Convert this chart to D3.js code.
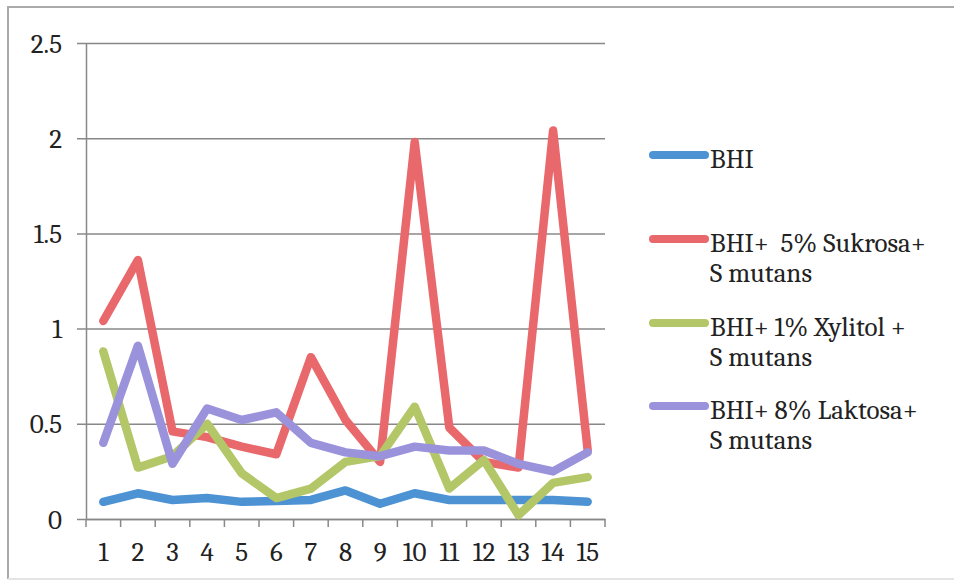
<!DOCTYPE html>
<html><head><meta charset="utf-8">
<script src="https://cdn.jsdelivr.net/npm/d3@7"></script>
<style>body{margin:0;background:#fff}svg{display:block}</style>
</head><body><svg id="c" width="954" height="582"></svg>
<script>
const categories = ["1","2","3","4","5","6","7","8","9","10","11","12","13","14","15"];
const yTicks = [0, 0.5, 1, 1.5, 2, 2.5];
const yTickLabels = ["0","0.5","1","1.5","2","2.5"];
const seriesNames = [["BHI"],["BHI+  5% Sukrosa+","S mutans"],["BHI+ 1% Xylitol +","S mutans"],["BHI+ 8% Laktosa+","S mutans"]];
const bhi      = [0.09,0.135,0.10,0.11,0.09,0.095,0.10,0.15,0.08,0.135,0.10,0.10,0.10,0.10,0.09];
const sukrosa  = [1.04,1.36,0.46,0.43,0.38,0.34,0.85,0.52,0.30,1.98,0.48,0.30,0.27,2.04,0.36];
const xylitol  = [0.88,0.27,0.33,0.50,0.24,0.11,0.16,0.30,0.33,0.59,0.16,0.31,0.02,0.19,0.22];
const laktosa  = [0.40,0.91,0.29,0.58,0.52,0.56,0.40,0.35,0.33,0.38,0.36,0.36,0.29,0.25,0.35];
const colors = ["#4d93d4","#e8686c","#b3c768","#9a92da"];
const FONT = '"Caladea","Cambria","Liberation Serif",serif';

const svg = d3.select("#c");
// outer frame
svg.append("path").attr("d","M8,579 L8,7 L954,7").attr("fill","none").attr("stroke","#aaa").attr("stroke-width",2);
svg.append("line").attr("x1",8).attr("x2",954).attr("y1",579).attr("y2",579).attr("stroke","#e4e4e4").attr("stroke-width",2);

const x = d3.scaleBand().domain(categories).range([86,605]);
const y = d3.scaleLinear().domain([0,2.5]).range([519,43]);

// gridlines + y labels
const ya = svg.append("g").attr("transform","translate(86,0)")
  .call(d3.axisLeft(y).tickValues(yTicks).tickSize(-519).tickSizeOuter(0).tickPadding(24).tickFormat((d,i)=>yTickLabels[i]));
ya.select(".domain").attr("stroke","#888").attr("stroke-width",1.5);
ya.selectAll(".tick line").attr("stroke","#888").attr("stroke-width",1.5).attr("x1",-9);
ya.selectAll(".tick text").style("font-size","27px").attr("dy","0.34em").style("font-family",FONT).attr("fill","#222");

// x axis
const xa = svg.append("g").attr("transform","translate(0,519)")
  .call(d3.axisBottom(x).tickSize(0).tickPadding(23));
xa.select(".domain").attr("stroke","#888").attr("stroke-width",1.5);
xa.selectAll(".tick text").style("font-size","27px").style("font-family",FONT).attr("fill","#222");
const edges = categories.map(c=>x(c)).concat([x.range()[1]]);
svg.append("g").selectAll("line").data(edges).join("line")
  .attr("x1",d=>d).attr("x2",d=>d).attr("y1",519).attr("y2",527).attr("stroke","#888").attr("stroke-width",1.5);

const all = [bhi, sukrosa, xylitol, laktosa];
const line = d3.line().x((d,i)=>x(categories[i])+x.bandwidth()/2).y(d=>y(d));
all.forEach((s,k)=>{
  svg.append("path").datum(s).attr("d",line).attr("fill","none").attr("stroke",colors[k])
    .attr("stroke-width",8.5).attr("stroke-linejoin","round").attr("stroke-linecap","round");
});

// legend
const legY = [155,239,323,406];
seriesNames.forEach((names,k)=>{
  svg.append("line").attr("x1",653).attr("x2",705).attr("y1",legY[k]).attr("y2",legY[k])
    .attr("stroke",colors[k]).attr("stroke-width",8).attr("stroke-linecap","round");
  names.forEach((t,j)=>{
    svg.append("text").attr("x",710).attr("y",legY[k]+13+j*30)
      .style("font-size","27px").style("font-family",FONT).style("white-space","pre").attr("fill","#222").text(t);
  });
});
</script></body></html>
